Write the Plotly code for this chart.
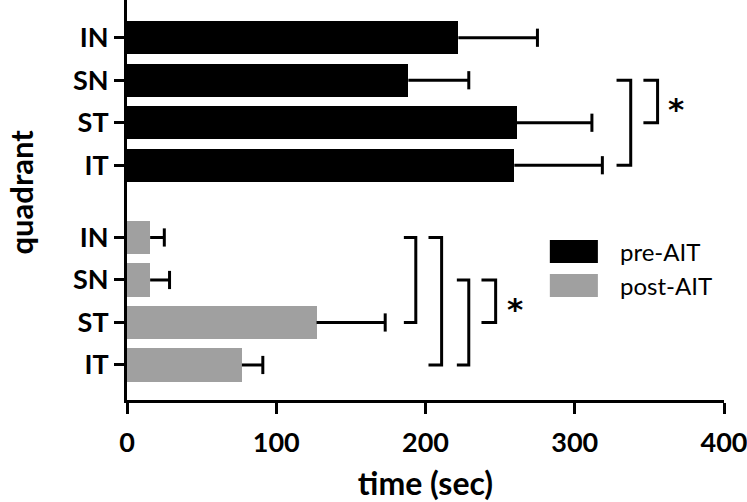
import plotly.graph_objects as go

# ---------------- data ----------------
categories = ["IN", "SN", "ST", "IT"]
pre_name = "pre-AIT"
post_name = "post-AIT"
pre_values = [222, 188.5, 261, 259.5]
pre_errors = [53, 40.5, 50.5, 59]
post_values = [15.5, 15.5, 127, 77]
post_errors = [9.5, 13, 46, 14]
x_ticks = [0, 100, 200, 300, 400]
x_title = "time (sec)"
y_title = "quadrant"
star = "*"

# ---------------- layout helpers ----------------
FONT = "Lato"
n = len(categories)
post_pos = [float(n - 1 - i) for i in range(n)]          # 3,2,1,0
pre_pos = [4.7 + (n - 1 - i) for i in range(n)]           # 7.7..4.7
BAR_W = 0.78
GRAY = "#a0a0a0"

fig = go.Figure()

fig.add_trace(go.Bar(orientation="h", x=pre_values, y=pre_pos, width=BAR_W,
                     marker=dict(color="black", line=dict(width=0)), name=pre_name,
                     showlegend=False))
fig.add_trace(go.Bar(orientation="h", x=post_values, y=post_pos, width=BAR_W,
                     marker=dict(color=GRAY, line=dict(width=0)), name=post_name,
                     showlegend=False))

# error bars (one-sided, drawn from bar end to value+error, cap at the end)
def err_trace(vals, errs, pos):
    xs, ys = [], []
    for v, e, p in zip(vals, errs, pos):
        xs += [v, v + e, None]
        ys += [p, p, None]
    fig.add_trace(go.Scatter(x=xs, y=ys, mode="lines", line=dict(color="black", width=3),
                             hoverinfo="skip", showlegend=False))
    fig.add_trace(go.Scatter(x=[v + e for v, e in zip(vals, errs)], y=pos, mode="markers",
                             marker=dict(symbol="line-ns", size=13,
                                         line=dict(color="black", width=3)),
                             hoverinfo="skip", showlegend=False))

err_trace(pre_values, pre_errors, pre_pos)
err_trace(post_values, post_errors, post_pos)

# significance brackets: (positions list, top cat, bottom cat, x arm start, x vertical)
idx = {c: i for i, c in enumerate(categories)}
brackets = [
    (pre_pos, "SN", "IT", 328, 337.5),
    (pre_pos, "SN", "ST", 346, 355.5),
    (post_pos, "IN", "ST", 185.5, 193.5),
    (post_pos, "IN", "IT", 202, 210.8),
    (post_pos, "SN", "IT", 221, 229),
    (post_pos, "SN", "ST", 237.5, 247),
]
shapes = []
for pos, a, b, x0, x1 in brackets:
    ya, yb = pos[idx[a]], pos[idx[b]]
    shapes.append(dict(type="path", xref="x", yref="y",
                       path=f"M{x0},{ya} L{x1},{ya} L{x1},{yb} L{x0},{yb}",
                       line=dict(color="black", width=3)))

annotations = []
for pos, a, b, x in [(pre_pos, "SN", "ST", 368), (post_pos, "SN", "ST", 259.7)]:
    ym = (pos[idx[a]] + pos[idx[b]]) / 2
    annotations.append(dict(x=x, y=ym, xref="x", yref="y", text=star, showarrow=False,
                            font=dict(family="DejaVu Sans", size=31, color="black", weight="bold"),
                            xanchor="center", yanchor="middle", yshift=-8))

# manual legend
legend_items = [(pre_name, "black", 2.94, 2.40), (post_name, GRAY, 2.14, 1.60)]
for name, col, y0, y1 in legend_items:
    shapes.append(dict(type="rect", xref="x", yref="y", x0=283.3, x1=315.5, y0=y1, y1=y0,
                       fillcolor=col, line=dict(width=0)))
    annotations.append(dict(x=329, y=(y0 + y1) / 2, xref="x", yref="y", text=name,
                            showarrow=False, xanchor="left", yanchor="middle",
                            font=dict(family=FONT, size=24, color="black")))

# y-axis title placed as rotated text
annotations.append(dict(x=(20.5 - 127) / 597, y=(400 - 192) / 400, xref="paper", yref="paper",
                        text=y_title, textangle=-90, showarrow=False, borderpad=0,
                        xanchor="center", yanchor="middle",
                        font=dict(family=FONT, size=31, color="black", weight="bold")))

fig.update_layout(
    width=747, height=502,
    margin=dict(l=127, r=23, t=0, b=102, autoexpand=False),
    paper_bgcolor="white", plot_bgcolor="white",
    shapes=shapes, annotations=annotations,
    showlegend=False,
    bargap=0,
    xaxis=dict(range=[0, 400], tickvals=x_ticks, ticktext=[str(t) for t in x_ticks],
               automargin=False, ticklabeloverflow="allow", ticklabelstandoff=6,
               showgrid=False, zeroline=False, showline=True, linecolor="black", linewidth=3,
               ticks="outside", ticklen=11, tickwidth=3, tickcolor="black",
               tickfont=dict(family=FONT, size=27, color="black", weight="bold"),
               title=dict(text=x_title, font=dict(family=FONT, size=32, color="black", weight="bold"),
                          standoff=16)),
    yaxis=dict(range=[-0.824, 8.588], tickvals=pre_pos + post_pos,
               ticktext=categories + categories, automargin=False,
               showgrid=False, zeroline=False, showline=True, linecolor="black", linewidth=3,
               ticks="outside", ticklen=10, tickwidth=3, tickcolor="black",
               tickfont=dict(family=FONT, size=27, color="black", weight="bold")),
)

fig.write_html("out.html", config={"displayModeBar": False},
               post_script="document.body.style.margin='0';")
